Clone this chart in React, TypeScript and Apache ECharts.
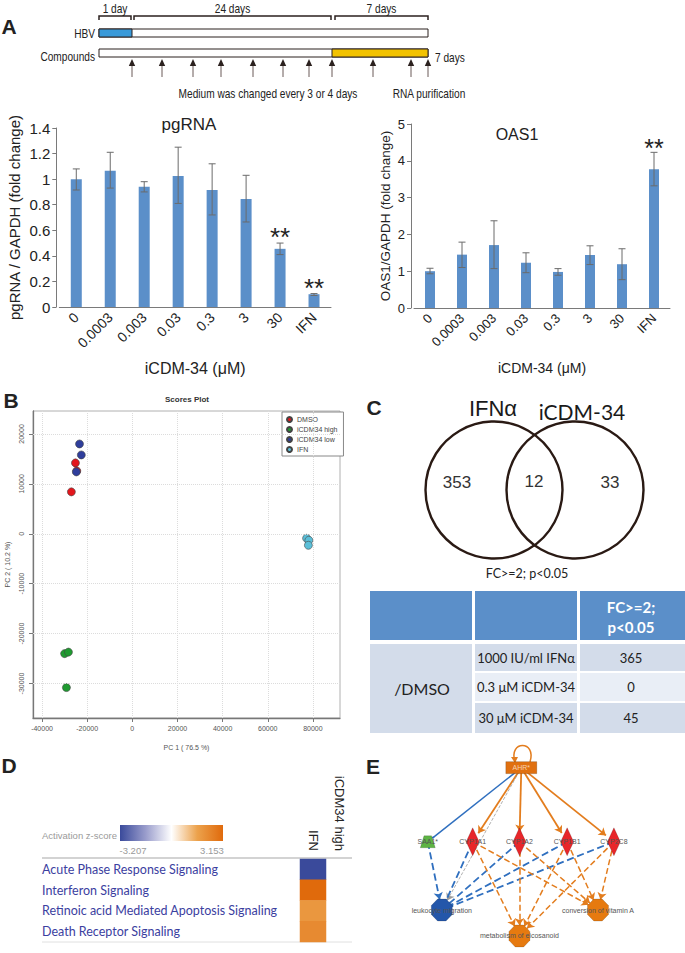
import React, { useEffect, useRef } from 'react';
import * as echarts from 'echarts';

const FONT = '"Liberation Sans", Arial, sans-serif';
const CAL = 'Lato, "Open Sans", sans-serif';

// ---------- Panel A ----------
const doseLabels = ['0', '0.0003', '0.003', '0.03', '0.3', '3', '30', 'IFN'];
const pgMean = [1.0, 1.065, 0.94, 1.025, 0.915, 0.845, 0.455, 0.1];
const pgLow = [0.915, 0.93, 0.9, 0.81, 0.72, 0.665, 0.41, 0.09];
const pgHigh = [1.08, 1.21, 0.98, 1.25, 1.12, 1.03, 0.5, 0.105];
const pgSig = ['', '', '', '', '', '', '**', '**'];
const oasMean = [1.0, 1.45, 1.71, 1.23, 0.98, 1.44, 1.19, 3.77];
const oasLow = [0.93, 1.1, 1.07, 0.96, 0.89, 1.18, 0.77, 3.32];
const oasHigh = [1.08, 1.79, 2.37, 1.5, 1.07, 1.69, 1.61, 4.23];
const oasSig = ['', '', '', '', '', '', '', '**'];
const pgTicks = { min: 0, max: 1.4, interval: 0.2 };
const oasTicks = { min: 0, max: 5, interval: 1 };

// timeline schematic
const bracketSpans = [[99, 131], [134, 331], [335, 428]];
const bracketLabels = ['1 day', '24 days', '7 days'];
const arrowXs = [132, 162, 193, 221, 253, 283, 309, 332, 373, 411, 428];

// ---------- Panel B ----------
const scoreGroups = ['DMSO', 'iCDM34 high', 'iCDM34 low', 'IFN'];
const scoreColors = ['#e3161c', '#1f9a30', '#2f3e9c', '#5bbfd8'];
const dmsoPts = [[-25200, 14200], [-27000, 8400], [-24600, 12600]];
const highPts = [[-30000, -24000], [-28300, -23700], [-29200, -30800]];
const lowPts = [[-23400, 18000], [-22600, 15800], [-24800, 12400]];
const ifnPts = [[77200, -900], [78200, -1300], [78000, -2300]];
const pc1Ticks = [-40000, -20000, 0, 20000, 40000, 60000, 80000];
const pc2Ticks = [-30000, -20000, -10000, 0, 10000, 20000];

// ---------- Panel C ----------
const vennCounts = ['353', '12', '33'];
const tableRowLabels = ['1000 IU/ml IFNα', '0.3 μM iCDM-34', '30 μM iCDM-34'];
const tableCounts = ['365', '0', '45'];

// ---------- Panel D ----------
const pathways = [
  'Acute Phase Response Signaling',
  'Interferon Signaling',
  'Retinoic acid Mediated Apoptosis Signaling',
  'Death Receptor Signaling',
];
const heatCols = ['IFN', 'iCDM34 high'];
const ifnZ = [-3.207, 3.153, 1.88, 2.24];
const zRange = [-3.207, 3.153];
const zColors = ['#3a4a9b', '#9a9dcc', '#ffffff', '#eca24c', '#e06a0c'];

// ---------- Panel E ----------
const netNodes = ['AHR*', 'SAA1*', 'CYP1A1', 'CYP1A2', 'CYP1B1', 'CYP2C8', 'leukocyte migration', 'metabolism of eicosanoid', 'conversion of vitamin A'];
const netCol = [2.0, 0, 0.96, 1.96, 2.98, 3.98, 0.3, 1.96, 3.64];
const netRow = [0, 1, 1, 1, 1, 1, 1.92, 2.27, 1.92];
const netKind = ['reg', 'sa', 'cyp', 'cyp', 'cyp', 'cyp', 'down', 'up', 'up'];
const linkFrom = ['AHR*', 'AHR*', 'AHR*', 'AHR*', 'AHR*', 'AHR*', 'SAA1*', 'CYP1A1', 'CYP1A2', 'CYP1B1', 'CYP2C8', 'CYP1A1', 'CYP1A1', 'CYP1A2', 'CYP1A2', 'CYP1B1', 'CYP1B1', 'CYP2C8', 'CYP2C8'];
const linkTo = ['SAA1*', 'CYP1A1', 'CYP1A2', 'CYP1B1', 'CYP2C8', 'leukocyte migration', 'leukocyte migration', 'leukocyte migration', 'leukocyte migration', 'leukocyte migration', 'leukocyte migration', 'metabolism of eicosanoid', 'conversion of vitamin A', 'metabolism of eicosanoid', 'conversion of vitamin A', 'metabolism of eicosanoid', 'conversion of vitamin A', 'metabolism of eicosanoid', 'conversion of vitamin A'];
const linkKind = ['inhibit', 'activate', 'activate', 'activate', 'activate', 'gray', 'blueDash', 'blueT', 'blueT', 'blueT', 'blueT', 'orangeDash', 'orangeDash', 'orangeDash', 'orangeDash', 'orangeDash', 'orangeDash', 'orangeDash', 'orangeDash'];

const BAR = '#5b8fc9';
const ERR = '#6b6b6b';
const AX = '#7a7a7a';
const DARK = '#2b211f';
const ORANGE = '#e37d1e';
const BLUE = '#2f6fbf';

function txt(x: number, y: number, text: string, o: any = {}) {
  return {
    type: 'text', x, y, silent: true, rotation: o.rot || 0, scaleX: o.sx || 1,
    style: {
      text, fill: o.fill || '#222', fontSize: o.size || 12, fontFamily: o.family || FONT,
      fontWeight: o.weight || 'normal', align: o.align || 'center', verticalAlign: o.va || 'middle',
    },
  };
}
const NARROW = { size: 13.5, sx: 0.75 };

function errSeries(idx: number, lo: number[], hi: number[], sig: string[], capW: number, sigSize: number, sigOff: number) {
  return {
    type: 'custom', xAxisIndex: idx, yAxisIndex: idx, silent: true, z: 3,
    data: lo.map((l, i) => [i, l, hi[i]]),
    renderItem: (params: any, api: any) => {
      const i = api.value(0);
      const a = api.coord([i, api.value(1)]);
      const b = api.coord([i, api.value(2)]);
      const st = { stroke: ERR, lineWidth: 1 };
      const children: any[] = [
        { type: 'line', shape: { x1: a[0], y1: a[1], x2: b[0], y2: b[1] }, style: st },
        { type: 'line', shape: { x1: a[0] - capW, y1: a[1], x2: a[0] + capW, y2: a[1] }, style: st },
        { type: 'line', shape: { x1: b[0] - capW, y1: b[1], x2: b[0] + capW, y2: b[1] }, style: st },
      ];
      const s = sig[params.dataIndex];
      if (s) {
        children.push({ type: 'text', x: b[0], y: b[1] - sigOff, style: { text: s, fontSize: sigSize, fontFamily: FONT, fill: '#222', align: 'center', verticalAlign: 'middle' } });
      }
      return { type: 'group', children };
    },
  };
}

function buildGraphic() {
  const g: any[] = [];
  // panel letters
  g.push(txt(9, 26, 'A', { size: 21, weight: 'bold' }));
  g.push(txt(11, 400, 'B', { size: 21, weight: 'bold' }));
  g.push(txt(374, 407, 'C', { size: 21, weight: 'bold' }));
  g.push(txt(9, 765, 'D', { size: 21, weight: 'bold' }));
  g.push(txt(373, 766, 'E', { size: 21, weight: 'bold' }));

  // timeline
  bracketSpans.forEach(([x1, x2], i) => {
    g.push({ type: 'polyline', silent: true, shape: { points: [[x1, 20], [x1, 16], [x2, 16], [x2, 20]] }, style: { stroke: DARK, lineWidth: 1.5, fill: null } });
    g.push(txt((x1 + x2) / 2, 8, bracketLabels[i], NARROW));
  });
  g.push({ type: 'rect', silent: true, shape: { x: 99, y: 29, width: 329, height: 8 }, style: { fill: '#fff', stroke: DARK, lineWidth: 1 } });
  g.push({ type: 'rect', silent: true, shape: { x: 99, y: 29, width: 33, height: 8 }, style: { fill: '#3a9ad9', stroke: DARK, lineWidth: 1 } });
  g.push({ type: 'rect', silent: true, shape: { x: 99, y: 49, width: 329, height: 8 }, style: { fill: '#fff', stroke: DARK, lineWidth: 1 } });
  g.push({ type: 'rect', silent: true, shape: { x: 332, y: 49, width: 96, height: 8 }, style: { fill: '#f2c200', stroke: DARK, lineWidth: 1 } });
  g.push(txt(95, 33, 'HBV', { ...NARROW, align: 'right' }));
  g.push(txt(95, 56, 'Compounds', { ...NARROW, align: 'right' }));
  g.push(txt(435, 57, '7 days', { ...NARROW, align: 'left' }));
  arrowXs.forEach((x) => {
    g.push({ type: 'line', silent: true, shape: { x1: x, y1: 65, x2: x, y2: 77 }, style: { stroke: '#6a5a58', lineWidth: 1 } });
    g.push({ type: 'polygon', silent: true, shape: { points: [[x - 3.2, 66], [x + 3.2, 66], [x, 59]] }, style: { fill: DARK } });
  });
  g.push(txt(268, 93, 'Medium was changed every 3 or 4 days', NARROW));
  g.push(txt(429, 93, 'RNA purification', NARROW));

  // bar titles
  g.push(txt(189, 124, 'pgRNA', { size: 17 }));
  g.push(txt(517, 134, 'OAS1', { size: 16 }));

  // scores plot title
  g.push(txt(187, 399, 'Scores Plot', { size: 8, weight: 'bold', fill: '#333' }));

  // Venn
  g.push({ type: 'circle', silent: true, shape: { cx: 494, cy: 490, r: 68.5 }, style: { fill: 'none', stroke: '#2a1a14', lineWidth: 2.4 } });
  g.push({ type: 'circle', silent: true, shape: { cx: 575, cy: 490, r: 68.5 }, style: { fill: 'none', stroke: '#2a1a14', lineWidth: 2.4 } });
  g.push(txt(493, 408, 'IFNα', { size: 22, fill: '#1a1a1a' }));
  g.push(txt(582, 411, 'iCDM-34', { size: 21, family: CAL, fill: '#1a1a1a' }));
  g.push(txt(457, 482, vennCounts[0], { size: 17, fill: '#333' }));
  g.push(txt(534, 481, vennCounts[1], { size: 17, fill: '#333' }));
  g.push(txt(610, 482, vennCounts[2], { size: 17, fill: '#333' }));
  g.push(txt(527, 573, 'FC>=2; p<0.05', { size: 12.5, family: CAL }));

  // table
  const cols = [[370, 472], [475, 577], [580, 685]];
  cols.forEach(([a, b]) => g.push({ type: 'rect', silent: true, shape: { x: a, y: 591, width: b - a, height: 49 }, style: { fill: '#5b8fc9' } }));
  g.push(txt(631, 607, 'FC>=2;', { size: 15, weight: 'bold', fill: '#fff', family: CAL }));
  g.push(txt(631, 627, 'p<0.05', { size: 15, weight: 'bold', fill: '#fff', family: CAL }));
  g.push({ type: 'rect', silent: true, shape: { x: 370, y: 644, width: 102, height: 89 }, style: { fill: '#d3dcea' } });
  g.push(txt(422, 688, '/DMSO', { size: 16, family: CAL }));
  const rowsY = [[644, 671], [673, 701], [703, 733]];
  const rowFill = ['#d3dcea', '#e9eef6', '#d3dcea'];
  rowsY.forEach(([a, b], i) => {
    g.push({ type: 'rect', silent: true, shape: { x: 475, y: a, width: 102, height: b - a }, style: { fill: rowFill[i] } });
    g.push({ type: 'rect', silent: true, shape: { x: 580, y: a, width: 105, height: b - a }, style: { fill: rowFill[i] } });
    g.push(txt(526, (a + b) / 2, tableRowLabels[i], { size: 13, family: CAL }));
    g.push(txt(631, (a + b) / 2, tableCounts[i], { size: 13, family: CAL }));
  });

  // panel D colour bar
  g.push(txt(42, 835, 'Activation z-score', { size: 9.5, fill: '#9a9a9a', align: 'left' }));
  g.push({
    type: 'rect', silent: true, shape: { x: 120, y: 825, width: 103, height: 16 },
    style: { fill: { type: 'linear', x: 0, y: 0, x2: 1, y2: 0, colorStops: zColors.map((c, i) => ({ offset: i / (zColors.length - 1), color: c })) } },
  });
  g.push(txt(133, 850, String(zRange[0]), { size: 9.5, fill: '#9a9a9a' }));
  g.push(txt(212, 850, String(zRange[1]), { size: 9.5, fill: '#9a9a9a' }));
  g.push({ type: 'line', silent: true, shape: { x1: 42, y1: 858, x2: 352, y2: 858 }, style: { stroke: '#c4c4c4', lineWidth: 1.5 } });
  g.push({ type: 'line', silent: true, shape: { x1: 42, y1: 942, x2: 352, y2: 942 }, style: { stroke: '#e0e0e0', lineWidth: 1 } });

  // panel E self loop
  g.push({ type: 'bezierCurve', silent: true, shape: { x1: 515, y1: 762, cpx1: 508, cpy1: 740, cpx2: 537, cpy2: 740, x2: 530, y2: 762 }, style: { stroke: ORANGE, lineWidth: 1.5, fill: 'none' } });
  g.push({ type: 'polygon', silent: true, shape: { points: [[511, 757], [518, 757], [515, 763]] }, style: { fill: ORANGE } });
  return g;
}

const octagon = 'path://M30,0 L70,0 L100,30 L100,70 L70,100 L30,100 L0,70 L0,30 Z';
const trapezoid = 'path://M25,0 L75,0 L100,100 L0,100 Z';
const kindSymbol: any = { reg: 'rect', sa: trapezoid, cyp: 'diamond', down: octagon, up: octagon };
const kindSize: any = { reg: [31, 12], sa: [15, 12], cyp: [13, 28], down: [21, 22], up: [21, 22] };
const kindColor: any = { reg: '#e07010', sa: '#5db444', cyp: '#e8262a', down: '#2457aa', up: '#e67a10' };
const linkStyle: any = {
  inhibit: { color: BLUE, width: 1.5, type: 'solid', opacity: 1 },
  activate: { color: ORANGE, width: 1.8, type: 'solid', opacity: 1 },
  gray: { color: '#9a9a9a', width: 0.8, type: 'dashed', opacity: 1 },
  blueDash: { color: BLUE, width: 1.8, type: 'dashed', opacity: 1 },
  blueT: { color: BLUE, width: 1.8, type: 'dashed', opacity: 1 },
  orangeDash: { color: ORANGE, width: 1.5, type: 'dashed', opacity: 1 },
};

function buildOption(): any {
  const scoreSets = [dmsoPts, highPts, lowPts, ifnPts];
  return {
    animation: false,
    textStyle: { fontFamily: FONT },
    grid: [
      { left: 59.3, top: 128, width: 271.7, height: 179 },
      { left: 414, top: 124, width: 256, height: 184 },
      { left: 33, top: 411, width: 307, height: 307, show: true, borderColor: '#b0b0b0', borderWidth: 1 },
      { left: 300, top: 859, width: 52, height: 83 },
      { left: 381, top: 738, width: 305.5, height: 217.5 },
    ],
    xAxis: [
      {
        gridIndex: 0, type: 'category', data: doseLabels,
        axisLine: { lineStyle: { color: AX } }, axisTick: { show: false },
        axisLabel: { rotate: 45, fontSize: 14, color: '#222', margin: 8, interval: 0, fontFamily: FONT },
        name: 'iCDM-34 (μM)', nameLocation: 'middle', nameGap: 53, nameTextStyle: { fontSize: 16, color: '#222', fontFamily: FONT },
      },
      {
        gridIndex: 1, type: 'category', data: doseLabels,
        axisLine: { lineStyle: { color: AX } }, axisTick: { show: false },
        axisLabel: { rotate: 45, fontSize: 13, color: '#222', margin: 8, interval: 0, fontFamily: FONT },
        name: 'iCDM-34 (μM)', nameLocation: 'middle', nameGap: 53, nameTextStyle: { fontSize: 14, color: '#222', fontFamily: FONT },
      },
      {
        gridIndex: 2, type: 'value', min: -44000, max: 92000,
        axisLine: { show: true, onZero: false, lineStyle: { color: '#777', width: 1.3 } },
        axisTick: { show: true, length: 4, customValues: pc1Ticks, lineStyle: { color: '#777' } },
        axisLabel: { customValues: pc1Ticks, fontSize: 7, color: '#555', margin: 7, formatter: (v: number) => String(v), fontFamily: FONT },
        splitLine: { show: false },
        name: 'PC 1 ( 76.5 %)', nameLocation: 'middle', nameGap: 26, nameTextStyle: { fontSize: 7, color: '#555', fontFamily: FONT },
      },
      {
        gridIndex: 3, type: 'category', data: heatCols, position: 'top',
        axisLine: { show: false }, axisTick: { show: false },
        axisLabel: { rotate: 90, fontSize: 13, color: '#222', margin: 8, interval: 0, fontFamily: FONT },
      },
      { gridIndex: 4, type: 'value', min: -1, max: 5.5, show: false },
    ],
    yAxis: [
      {
        gridIndex: 0, type: 'value', ...pgTicks, offset: 3,
        axisLine: { show: true, lineStyle: { color: AX } }, axisTick: { show: true, length: 4, lineStyle: { color: AX } },
        axisLabel: { fontSize: 15, color: '#222', margin: 6, fontFamily: FONT }, splitLine: { show: false },
        name: 'pgRNA / GAPDH (fold change)', nameLocation: 'middle', nameRotate: 90, nameGap: 34,
        nameTextStyle: { fontSize: 15, color: '#222', fontFamily: FONT },
      },
      {
        gridIndex: 1, type: 'value', ...oasTicks, offset: 3,
        axisLine: { show: true, lineStyle: { color: AX } }, axisTick: { show: true, length: 4, lineStyle: { color: AX } },
        axisLabel: { fontSize: 13, color: '#222', margin: 6, fontFamily: FONT }, splitLine: { show: false },
        name: 'OAS1/GAPDH (fold change)', nameLocation: 'middle', nameRotate: 90, nameGap: 19,
        nameTextStyle: { fontSize: 13.5, color: '#222', fontFamily: FONT },
      },
      {
        gridIndex: 2, type: 'value', min: -36900, max: 24600,
        axisLine: { show: true, onZero: false, lineStyle: { color: '#777', width: 1.3 } },
        axisTick: { show: true, length: 4, customValues: pc2Ticks, lineStyle: { color: '#777' } },
        axisLabel: { customValues: pc2Ticks, rotate: 90, fontSize: 7, color: '#555', margin: 8, formatter: (v: number) => String(v), fontFamily: FONT },
        splitLine: { show: false },
        name: 'PC 2 ( 10.2 %)', nameLocation: 'middle', nameRotate: 90, nameGap: 22, nameTextStyle: { fontSize: 7, color: '#555', fontFamily: FONT },
      },
      {
        gridIndex: 3, type: 'category', data: pathways, inverse: true,
        axisLine: { show: false }, axisTick: { show: false },
        axisLabel: { align: 'left', margin: 258, fontSize: 12.5, color: '#3b40a0', fontFamily: CAL, interval: 0 },
      },
      { gridIndex: 4, type: 'value', min: -0.4, max: 2.5, inverse: true, show: false },
    ],
    legend: {
      data: scoreGroups, orient: 'vertical', left: 282, top: 412, itemWidth: 5, itemHeight: 5, itemGap: 3,
      icon: 'circle', textStyle: { fontSize: 7, color: '#444', fontFamily: FONT }, borderColor: '#888', borderWidth: 1,
      backgroundColor: '#fff', padding: [4, 6, 3, 4], borderRadius: 0, selectedMode: false,
    },
    visualMap: {
      type: 'continuous', show: false, seriesIndex: 9, min: zRange[0], max: zRange[1],
      inRange: { color: zColors },
    },
    series: [
      { type: 'bar', xAxisIndex: 0, yAxisIndex: 0, data: pgMean, barWidth: 11, itemStyle: { color: BAR }, silent: true },
      errSeries(0, pgLow, pgHigh, pgSig, 3.5, 26, 6),
      { type: 'bar', xAxisIndex: 1, yAxisIndex: 1, data: oasMean, barWidth: 10, itemStyle: { color: BAR }, silent: true },
      errSeries(1, oasLow, oasHigh, oasSig, 3.5, 25, 4),
      {
        type: 'scatter', xAxisIndex: 2, yAxisIndex: 2, data: [], z: 1, silent: true,
        markLine: {
          silent: true, symbol: ['none', 'none'], label: { show: false },
          lineStyle: { color: '#dcdcdc', type: 'dotted', width: 1 },
          data: [...pc1Ticks.map((v) => ({ xAxis: v })), ...pc2Ticks.map((v) => ({ yAxis: v }))],
        },
      },
      ...scoreSets.map((pts, i) => ({
        type: 'scatter', name: scoreGroups[i], xAxisIndex: 2, yAxisIndex: 2, data: pts, z: 2,
        symbolSize: 8, itemStyle: { color: scoreColors[i], borderColor: '#444', borderWidth: 0.6, opacity: 1 }, silent: true,
      })),
      {
        type: 'heatmap', xAxisIndex: 3, yAxisIndex: 3, silent: true,
        data: ifnZ.map((v, i) => [0, i, v]),
      },
      {
        type: 'graph', coordinateSystem: 'cartesian2d', xAxisIndex: 4, yAxisIndex: 4, z: 5, silent: true,
        edgeSymbol: ['none', 'arrow'], edgeSymbolSize: 7,
        lineStyle: { opacity: 1 },
        label: { show: true, position: 'inside', fontSize: 7, color: '#555', fontFamily: FONT },
        data: netNodes.map((n, i) => ({
          name: n, value: [netCol[i], netRow[i]], symbol: kindSymbol[netKind[i]], symbolSize: kindSize[netKind[i]],
          itemStyle: { color: kindColor[netKind[i]], borderColor: 'rgba(0,0,0,0.25)', borderWidth: 0.6 },
          label: netKind[i] === 'reg' ? { color: '#f6d2b0' } : undefined,
        })),
        links: linkFrom.map((s, i) => ({
          source: s, target: linkTo[i], lineStyle: linkStyle[linkKind[i]],
          symbol: ['none', linkKind[i] === 'inhibit' || linkKind[i] === 'blueT' ? 'rect' : 'arrow'],
          symbolSize: linkKind[i] === 'inhibit' || linkKind[i] === 'blueT' ? [9, 2] : 7,
        })),
      },
    ],
    graphic: buildGraphic(),
  };
}

export default function App() {
  const ref = useRef<HTMLDivElement>(null);
  useEffect(() => {
    document.body.style.margin = '0';
    const chart = echarts.init(ref.current as HTMLDivElement, undefined, { renderer: 'svg' });
    chart.setOption(buildOption());
    return () => chart.dispose();
  }, []);
  return <div ref={ref} style={{ width: 685, height: 953, background: '#fff' }} />;
}
